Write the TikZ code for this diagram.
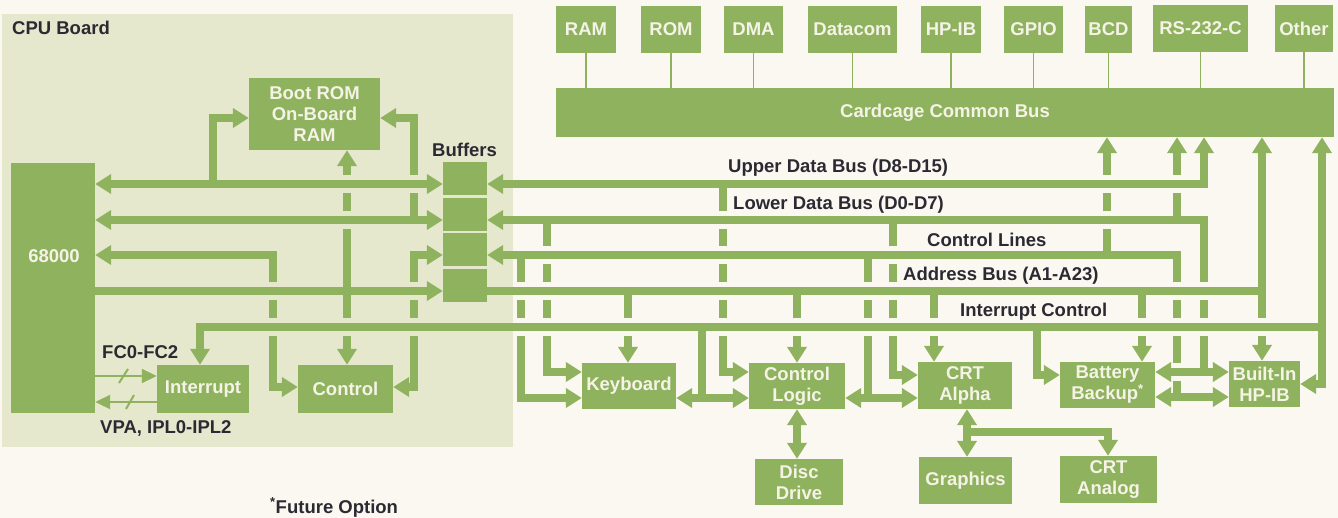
\documentclass[tikz,border=0pt]{standalone}
\usepackage{fontspec}
\setmainfont{Liberation Sans}
\usetikzlibrary{arrows.meta}
\definecolor{gr}{HTML}{8FB25F}
\definecolor{boardbg}{HTML}{E5E8CD}
\definecolor{pagebg}{HTML}{FAF8F0}
\definecolor{ink}{HTML}{2B2A33}
\definecolor{boxtxt}{HTML}{F5F3E6}
\newcommand\gbx[6]{\node[gbox,minimum width={(#4-#2)*1pt},minimum height={(#5-#3)*1pt}] (#1) at ({(#2+#4)/2},{(#3+#5)/2}) {#6};}
\newcommand\pcut[2]{\fill[pagebg] (#1-5,#2-9) rectangle (#1+5,#2+9);}
\newcommand\bcut[2]{\fill[boardbg] (#1-5,#2-9) rectangle (#1+5,#2+9);}
\newcommand\hfix[2]{\fill[gr] (#1-6.5,#2-3.75) rectangle (#1+6.5,#2+3.75);}
\begin{document}
\begin{tikzpicture}[x=1pt,y=-1pt,
  font=\fontsize{18.5}{21}\selectfont\bfseries,
  gbox/.style={fill=gr,draw=none,inner sep=0pt,text=boxtxt,align=center},
  lbl/.style={text=ink,anchor=base west,inner sep=0pt},
  bus/.style={draw=gr,line width=7.5pt},
  thinl/.style={draw=gr,line width=1.3pt},
  sig/.style={draw=gr,line width=2pt},
  Bt/.tip={Triangle[length=16pt,width=19pt]},
  St/.tip={Triangle[length=15pt,width=14pt]}]
\useasboundingbox (0,0) rectangle (1338,518);
\fill[pagebg] (0,0) rectangle (1338,518);
\node[inner sep=0pt,fill=boardbg,minimum width=511pt,minimum height=433pt] (board) at (257.5,230.5) {};

% ---------- boxes ----------
\gbx{cpu}{11}{163}{95}{413}{}
\gbx{bootrom}{249}{78}{380}{150}{Boot ROM\\On-Board\\RAM}
\gbx{buf1}{443}{162}{487}{195}{}
\gbx{buf2}{443}{198}{487}{231}{}
\gbx{buf3}{443}{233}{487}{266}{}
\gbx{buf4}{443}{269}{487}{302}{}
\gbx{intr}{157}{365}{249}{413}{Interrupt}
\gbx{ctrl}{298}{365}{393}{413}{Control}
\gbx{ram}{556}{6}{616}{53}{RAM}
\gbx{rom}{641}{6}{701}{53}{ROM}
\gbx{dma}{724}{6}{783}{53}{DMA}
\gbx{datacom}{808}{6}{897}{53}{Datacom}
\gbx{hpib}{921}{6}{981}{53}{HP-IB}
\gbx{gpio}{1004}{6}{1063}{53}{GPIO}
\gbx{bcd}{1085}{6}{1132}{53}{BCD}
\gbx{rs}{1153}{5}{1248}{52}{RS-232-C}
\gbx{other}{1275}{5}{1333}{52}{Other}
\gbx{bus}{556}{88}{1334}{137}{Cardcage Common Bus}
\gbx{kb}{582}{363}{676}{409}{Keyboard}
\gbx{cl}{749}{363}{845}{409}{Control\\Logic}
\gbx{disc}{755}{459}{843}{505}{Disc\\Drive}
\gbx{crta}{918}{362}{1012}{409}{CRT\\Alpha}
\gbx{graph}{919}{457}{1012}{504}{Graphics}
\gbx{crtan}{1060}{456}{1157}{503}{CRT\\Analog}
\gbx{batt}{1060}{362}{1155}{408}{Battery\\Backup\textsuperscript{*}}
\gbx{bihp}{1229}{361}{1300}{407}{Built-In\\HP-IB}
\node[text=boxtxt] (cpulbl) at (54,256) {68000};

% ---------- thin card connectors ----------
\foreach \b in {ram,rom,dma,datacom,hpib,gpio,bcd,rs,other}
  \draw[thinl] (\b.south) -- (\b.south |- bus.north);

% ---------- CPU board buses ----------
\draw[bus,Bt-Bt] (cpu.east |- 0,184) -- (buf1.west |- 0,184);
\draw[bus,Bt-Bt] (cpu.east |- 0,220) -- (buf2.west |- 0,220);
\draw[bus,-Bt] (cpu.east |- 0,291) -- (buf4.west |- 0,291);
\draw[bus,-Bt] (213,184) |- (bootrom.west |- 0,118);
\draw[bus,-Bt] (414,220) |- (bootrom.east |- 0,118);
\draw[bus,-Bt] (347,291) -- (bootrom.south -| 347,0);
\draw[bus,-Bt] (347,291) -- (ctrl.north -| 347,0);
\draw[bus,Bt-Bt] (cpu.east |- 0,255) -| (273,387) -- (ctrl.west |- 0,387);
\draw[bus,Bt-Bt] (ctrl.east |- 0,387) -| (414,255) -- (buf3.west |- 0,255);
\draw[sig,-St] (cpu.east |- 0,376) -- (intr.west |- 0,376);
\draw[sig,-St] (intr.west |- 0,402) -- (cpu.east |- 0,402);
\draw[sig] (119,383) -- (128,369);
\draw[sig] (126,409) -- (134,395);

% ---------- system buses ----------
\draw[bus,Bt-Bt] (buf1.east |- 0,184) -| (bus.south -| 1204,0);
\draw[bus,Bt-] (buf2.east |- 0,220) -| (1204,372);
\draw[bus,Bt-] (buf3.east |- 0,255) -| (1177,397);
\draw[bus] (buf4.east |- 0,291) -- (1262,291);
\draw[bus,-Bt] (1262,291) -- (bus.south -| 1262,0);
\draw[bus,-Bt] (1262,291) -- (bihp.north -| 1262,0);
\draw[bus,-Bt] (1322,327) -| (intr.north -| 200,0);
\draw[bus,-Bt] (1322,327) -- (bus.south -| 1322,0);
\draw[bus,-Bt] (1322,327) |- (bihp.east |- 0,384);
\draw[bus,-Bt] (1107,255) -- (bus.south -| 1107,0);
\draw[bus,-Bt] (1177,220) -- (bus.south -| 1177,0);

% ---------- device drops ----------
\draw[bus,-Bt] (521,255) |- (kb.west |- 0,398);
\draw[bus,-Bt] (547,220) |- (kb.west |- 0,372);
\draw[bus,-Bt] (628,291) -- (kb.north -| 628,0);
\draw[bus] (702,327) -- (702,398);
\draw[bus,-Bt] (723,184) |- (cl.west |- 0,372);
\draw[bus,-Bt] (797,291) -- (cl.north -| 797,0);
\draw[bus] (868,255) -- (868,398);
\draw[bus,-Bt] (893,220) |- (crta.west |- 0,375);
\draw[bus,-Bt] (934,291) -- (crta.north -| 934,0);
\draw[bus,-Bt] (1037,327) |- (batt.west |- 0,375);
\draw[bus,-Bt] (1142,291) -- (batt.north -| 1142,0);
\draw[bus,Bt-Bt] (kb.east |- 0,398) -- (cl.west |- 0,398);
\draw[bus,Bt-Bt] (cl.east |- 0,398) -- (crta.west |- 0,398);
\draw[bus,Bt-Bt] (cl.south -| 797,0) -- (disc.north -| 797,0);
\draw[bus,Bt-Bt] (crta.south -| 967,0) -- (graph.north -| 967,0);
\draw[bus,-Bt] (967,432) -| (crtan.north -| 1108,0);
\draw[bus,Bt-Bt] (batt.east |- 0,372) -- (bihp.west |- 0,372);
\draw[bus,Bt-Bt] (batt.east |- 0,397) -- (bihp.west |- 0,397);

% ---------- crossings (line passes over) ----------
\foreach \x/\y in {414/184,347/184,347/220,347/327,273/291,273/327,414/291,414/327}
  {\bcut{\x}{\y}\hfix{\x}{\y}}
\foreach \x/\y in {521/291,521/327,547/255,547/291,547/327,628/327,
  723/220,723/255,723/291,723/327,797/327,868/291,868/327,
  893/255,893/291,893/327,934/327,1107/184,1107/220,1142/327,
  1177/184,1177/291,1177/327,1177/372,1204/291,1204/327,1262/327}
  {\pcut{\x}{\y}\hfix{\x}{\y}}

% ---------- labels ----------
\node[lbl] (cpub) at (12,35) {CPU Board};
\node[lbl] (bufl) at (432,157) {Buffers};
\node[lbl] (udb) at (728,173) {Upper Data Bus (D8-D15)};
\node[lbl] (ldb) at (733,210) {Lower Data Bus (D0-D7)};
\node[lbl] (ctl) at (927,247) {Control Lines};
\node[lbl] (adb) at (903,281) {Address Bus (A1-A23)};
\node[lbl] (ic) at (960,317) {Interrupt Control};
\node[lbl] (fc) at (102,359) {FC0-FC2};
\node[lbl] (vpa) at (100,433) {VPA, IPL0-IPL2};
\node[lbl] (fut) at (270,513) {\textsuperscript{*}Future Option};
\end{tikzpicture}
\end{document}
